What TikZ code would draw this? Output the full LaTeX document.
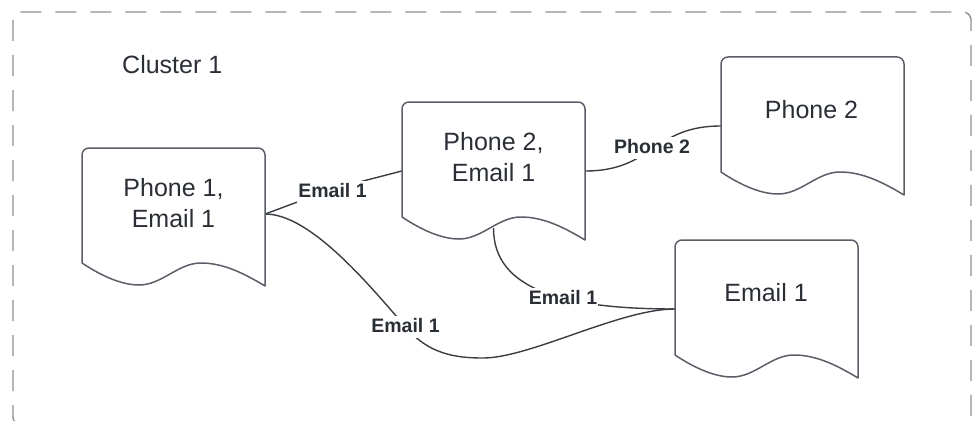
\documentclass[tikz,border=0pt]{standalone}
\usepackage{fontspec}
\setmainfont{Liberation Sans}
\usetikzlibrary{calc}
\pgfdeclarelayer{background}
\pgfsetlayers{background,main}

\definecolor{shapeline}{HTML}{5A5E66}
\definecolor{inktext}{HTML}{2A2E35}
\definecolor{wire}{HTML}{3A3D43}
\definecolor{framegray}{HTML}{8C8F94}

\tikzset{
  docline/.style={draw=shapeline, line width=1.5pt, line join=round},
  docbody/.style={minimum width=183pt, minimum height=130pt, inner sep=0pt, draw=none},
  doctext/.style={text=inktext, align=center, inner sep=0pt,
    font=\fontsize{25}{30.5}\selectfont},
  edgelabel/.style={text=inktext, fill=white, inner xsep=1pt, inner ysep=2pt,
    text depth=4pt, anchor=base,
    font=\fontsize{19.5}{22}\selectfont\bfseries},
  wireline/.style={draw=wire, line width=1.4pt},
  clusterframe/.style={draw=framegray, line width=1.4pt, dash pattern=on 21pt off 14pt,
    rounded corners=8pt}
}

% Document shape with a wavy bottom edge; #1,#2 = top-left corner
\newcommand\docoutline[2]{%
  \draw[docline] ({#1},{#2+115})
    .. controls ({#1+15},{#2+125}) and ({#1+37},{#2+137}) .. ({#1+57},{#2+137})
    .. controls ({#1+80},{#2+137}) and ({#1+96},{#2+115}) .. ({#1+119},{#2+115})
    .. controls ({#1+142},{#2+115}) and ({#1+163},{#2+126}) .. ({#1+183},{#2+138})
    -- ({#1+183},{#2+60}) [rounded corners=7pt] -- ({#1+183},{#2}) -- ({#1},{#2})
    -- ({#1},{#2+60}) [sharp corners] -- cycle;%
}

\begin{document}
\begin{tikzpicture}[x=1pt, y=-1pt]
\useasboundingbox (0,0) rectangle (976,420);

% cluster frame
\draw[clusterframe] (13,12) rectangle (971,425);
\node[doctext, anchor=base west] (cluster) at (122,74) {Cluster 1};

% document shapes
\docoutline{82}{148}
\docoutline{402}{102}
\docoutline{721}{57}
\docoutline{675}{240}

\node[docbody] (p1e1) at (173.5,214) {};
\node[docbody] (p2e1) at (493.5,171) {};
\node[docbody] (p2)   at (812.5,126) {};
\node[docbody] (e1)   at (766.5,309) {};

\node[doctext] (p1e1-t) at (173.5,203) {Phone 1,\\Email 1};
\node[doctext] (p2e1-t) at (493.5,157) {Phone 2,\\Email 1};
\node[doctext, anchor=base] (p2-t) at (811.5,118) {Phone 2};
\node[doctext, anchor=base] (e1-t) at (766,301) {Email 1};

% connector labels
\node[edgelabel] (l1) at (332.5,197) {Email 1};
\node[edgelabel] (l2) at (652,153) {Phone 2};
\node[edgelabel] (l3) at (563,304) {Email 1};
\node[edgelabel] (l4) at (405.5,332) {Email 1};

\coordinate (dip) at (483,358);

% connectors
\begin{pgfonlayer}{background}
  \draw[wireline] (p1e1.east) -- ([yshift=3pt]l1.center) -- (p2e1.west);
  \draw[wireline] (p2e1.east) .. controls +(68,0) and +(-68,0) .. (p2.west);
  \draw[wireline] ([yshift=8pt]p2e1.south) .. controls +(0,62) and +(-110,0) .. (e1.west);
  \draw[wireline] (p1e1.east) .. controls +(45,0) and +(-37,-43) .. (l4.center)
    .. controls +(23,27) and +(-28,0) .. (dip)
    .. controls +(47,0) and +(-55,0) .. (e1.west);
\end{pgfonlayer}
\end{tikzpicture}
\end{document}
